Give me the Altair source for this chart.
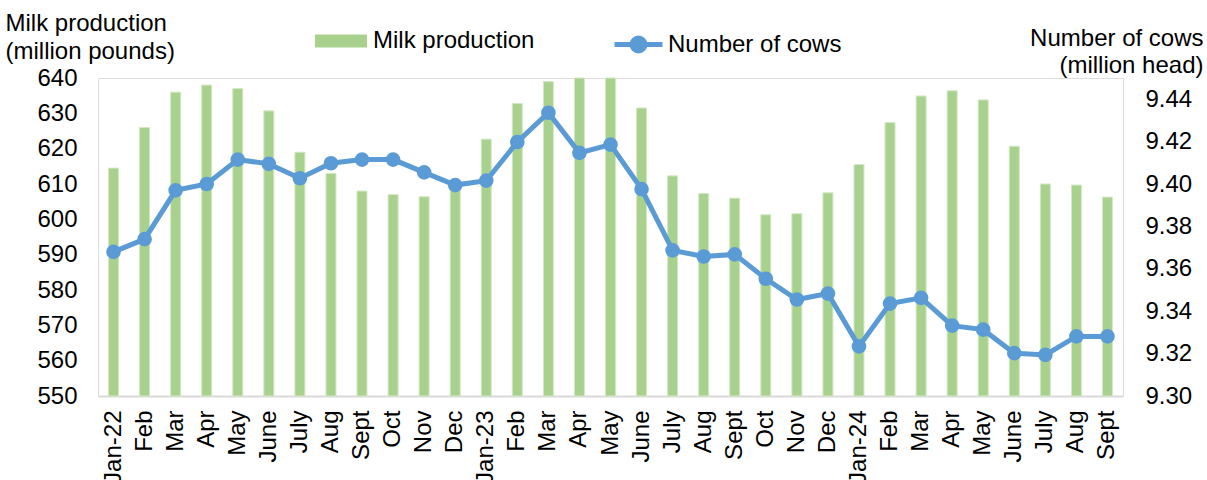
import altair as alt
import pandas as pd

months = ["Jan-22", "Feb", "Mar", "Apr", "May", "June", "July", "Aug", "Sept", "Oct", "Nov", "Dec",
          "Jan-23", "Feb", "Mar", "Apr", "May", "June", "July", "Aug", "Sept", "Oct", "Nov", "Dec",
          "Jan-24", "Feb", "Mar", "Apr", "May", "June", "July", "Aug", "Sept"]
milk = [614.5, 626, 636, 638, 637, 630.7, 619, 613, 608, 607, 606.4, 608.5,
        622.7, 632.8, 639, 640, 640, 631.5, 612.3, 607.3, 606, 601.3, 601.6, 607.5,
        615.5, 627.4, 634.9, 636.4, 633.8, 620.7, 610, 609.7, 606.3]
cows = [9.368, 9.374, 9.397, 9.400, 9.4115, 9.4095, 9.4027, 9.4098, 9.4115, 9.4115, 9.4055, 9.3995,
        9.4016, 9.4198, 9.4336, 9.4147, 9.4186, 9.3976, 9.3687, 9.3658, 9.3668, 9.3553, 9.3455, 9.3483,
        9.3234, 9.3436, 9.3463, 9.3332, 9.3313, 9.3202, 9.3194, 9.3281, 9.3281]
left_ticks = [550, 560, 570, 580, 590, 600, 610, 620, 630, 640]
right_ticks = [9.30, 9.32, 9.34, 9.36, 9.38, 9.40, 9.42, 9.44]

keys = [f"k{i:02d}" for i in range(len(months))]
df = pd.DataFrame({"key": keys, "label": months, "milk": milk, "cows": cows,
                   "s1": "Milk production", "s2": "Number of cows"})

FONT = "Liberation Sans"
FS = 24
GREEN = "#A9D18E"
BLUE = "#5B9BD5"

label_expr = "{" + ",".join(f"'{k}':'{m}'" for k, m in zip(keys, months)) + "}[datum.value]"

x = alt.X("key:N", sort=keys, title=None,
          scale=alt.Scale(paddingInner=0, paddingOuter=0),
          axis=alt.Axis(labelExpr=label_expr, labelAngle=270, labelAlign="right",
                        labelBaseline="middle", labelPadding=14, ticks=False,
                        domainColor="#D9D9D9", domainWidth=2, labelFont=FONT,
                        labelFontSize=FS, labelColor="#000000", grid=False))

bars = alt.Chart(df).mark_bar(size=10, stroke="#D3E8C6", strokeWidth=1).encode(
    x=x,
    y=alt.Y("milk:Q", scale=alt.Scale(domain=[550, 640], nice=False, zero=False),
            axis=alt.Axis(values=left_ticks, domain=False, ticks=False, grid=False,
                          labelFont=FONT, labelFontSize=FS, labelColor="#000000",
                          labelPadding=21,
                          title=["Milk production", "(million pounds)"],
                          titleAngle=0, titleAlign="left", titleBaseline="alphabetic",
                          titleX=-93, titleY=-48, titleFont=FONT, titleFontSize=FS,
                          titleFontWeight="normal", titleColor="#000000",
                          titleLineHeight=28)),
    y2=alt.datum(550),
    fill=alt.Fill("s1:N", scale=alt.Scale(range=[GREEN]),
                  legend=alt.Legend(orient="none", legendX=217, legendY=-63, title=None,
                                    symbolType="M-1,-0.25H1V0.25H-1Z", symbolSize=2704,
                                    symbolStrokeWidth=0, labelFont=FONT, labelFontSize=FS,
                                    labelColor="#000000", labelOffset=6, padding=0,
                                    labelLimit=400)),
)

line = alt.Chart(df).mark_line(strokeWidth=5,
                               point=alt.OverlayMarkDef(filled=True, fill=BLUE, size=160)).encode(
    x=x,
    y=alt.Y("cows:Q", scale=alt.Scale(domain=[9.30, 9.45], nice=False, zero=False),
            axis=alt.Axis(orient="right", values=right_ticks, format=".2f", domain=False,
                          ticks=False, grid=False, labelFont=FONT, labelFontSize=FS,
                          labelColor="#000000", labelPadding=22,
                          title=["Number of cows", "(million head)"],
                          titleAngle=0, titleAlign="right", titleBaseline="alphabetic",
                          titleX=80, titleY=-33, titleFont=FONT, titleFontSize=FS,
                          titleFontWeight="normal", titleColor="#000000",
                          titleLineHeight=27)),
    stroke=alt.Stroke("s2:N", scale=alt.Scale(range=[BLUE]),
                      legend=alt.Legend(orient="none", legendX=514, legendY=-60, title=None,
                                        symbolType="M-1,0H1M0.27,0A0.27,0.27,0,1,1,-0.27,0A0.27,0.27,0,1,1,0.27,0Z",
                                        symbolSize=2304, symbolStrokeWidth=5,
                                        symbolFillColor=BLUE, labelFont=FONT,
                                        labelFontSize=FS, labelColor="#000000",
                                        labelOffset=3, padding=0, labelLimit=400)),
)

chart = alt.layer(bars, line).resolve_scale(y="independent").properties(
    width=1025, height=318,
    padding={"left": 98, "top": 78, "right": 84, "bottom": 84},
    autosize=alt.AutoSizeParams(type="none"),
).configure_view(stroke=None).configure(background="white")

chart.save("out.html", embed_options={"renderer": "svg", "actions": False})
